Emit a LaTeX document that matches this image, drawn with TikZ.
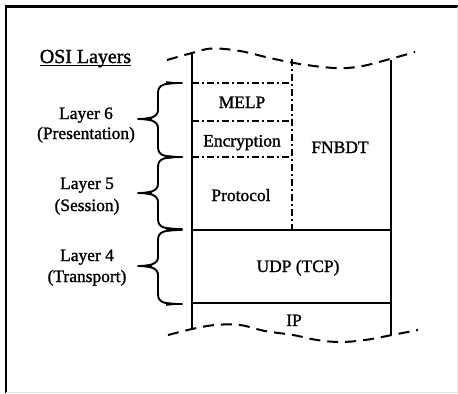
\documentclass[tikz,border=0pt]{standalone}
\usepackage{fontspec}
\setmainfont{Liberation Serif}
\newfontfamily\lblfont[FakeBold=1.3]{Liberation Serif}
\begin{document}
\begin{tikzpicture}[x=1bp,y=-1bp,
  lbl/.style={font=\lblfont\fontsize{17.5}{20}\selectfont, inner sep=0pt, anchor=base},
  boxline/.style={line width=1.9bp},
  sideline/.style={line width=1.5bp},
  dashdot/.style={line width=1.8bp, dash pattern=on 6.5bp off 3.5bp on 1.5bp off 3.5bp},
  wave/.style={line width=2bp, dash pattern=on 11bp off 7bp},
  brc/.style={line width=1.9bp, line join=round, line cap=round},
  brctip/.style={fill=black}]

\useasboundingbox (0,0) rectangle (458,393);

% frame
\draw[line width=2.3bp] (6,393) -- (6,6.5) -- (458,6.5);
\draw[black!10, line width=0.8bp] (457.5,6.5) -- (457.5,392.5) -- (6,392.5);

% corner points of the stack
\coordinate (LT) at (192,52);
\coordinate (LB) at (192,328);
\coordinate (RT) at (391,60);
\coordinate (RB) at (391,335);
\coordinate (DT) at (292,59);
\coordinate (DB) at (292,230);
\coordinate (M1L) at (192,83);  \coordinate (M1R) at (292,83);
\coordinate (M2L) at (192,121); \coordinate (M2R) at (292,121);
\coordinate (M3L) at (192,157); \coordinate (M3R) at (292,157);
\coordinate (UL) at (192,230);  \coordinate (UR) at (391,230);
\coordinate (IL) at (192,303);  \coordinate (IR) at (391,303);

% stack outline
\draw[boxline] (LT) -- (LB);
\draw[sideline] (RT) -- (RB);
\draw[boxline] (UL) -- (UR);
\draw[boxline] (IL) -- (IR);

% presentation / session sub-blocks
\draw[dashdot] (DT) -- (DB);
\draw[dashdot] (M1L) -- (M1R);
\draw[dashdot] (M2L) -- (M2R);
\draw[dashdot] (M3L) -- (M3R);

% torn edges above and below
\draw[wave] plot[smooth, tension=0.6] coordinates
  {(167,60) (192,53) (212,48.5) (240,51) (270,58) (300,64) (335,68) (360,66.5) (390,59) (415,52)};
\draw[wave] plot[smooth, tension=0.6] coordinates
  {(168,335) (192,329) (215,325) (240,325) (265,331) (293,335) (317,340) (340,342) (365,340) (392,335) (418,330)};

% braces for the OSI layers
\foreach \yt/\ym/\yb in {83/119/157, 157/193/229, 230/266/304}{
  \draw[brc] (182,\yt) .. controls (165,\yt) and (158,{\yt+1}) .. (158,{\yt+10})
    -- (158,{\ym-9}) .. controls (158,{\ym-2}) and (150,\ym) .. (138,\ym)
    .. controls (150,\ym) and (158,{\ym+2}) .. (158,{\ym+9})
    -- (158,{\yb-10}) .. controls (158,{\yb-1}) and (165,\yb) .. (182,\yb);
  \fill[brctip] (166,{\yt-1.8}) -- (183,\yt) -- (166,{\yt+1.8}) -- cycle;
  \fill[brctip] (166,{\yb-1.8}) -- (183,\yb) -- (166,{\yb+1.8}) -- cycle;
  \fill[brctip] (152,{\ym-2}) -- (137,\ym) -- (152,{\ym+2}) -- cycle;
}

% texts
\node[lbl, font=\lblfont\fontsize{20}{22}\selectfont] (title) at (85.5,63) {OSI Layers};
\draw[line width=1.4bp] ([yshift=-2.5bp]title.base west) -- ([yshift=-2.5bp]title.base east);

\node[lbl] (l6a) at (86,119) {Layer 6};
\node[lbl] (l6b) at (86,139) {(Presentation)};
\node[lbl] (l5a) at (87,189) {Layer 5};
\node[lbl] (l5b) at (87,211) {(Session)};
\node[lbl] (l4a) at (87,261) {Layer 4};
\node[lbl] (l4b) at (87,282) {(Transport)};

\node[lbl] (melp) at (242,108) {MELP};
\node[lbl] (enc) at (242,146.5) {Encryption};
\node[lbl] (proto) at (241,201) {Protocol};
\node[lbl] (fnbdt) at (340,153) {FNBDT};
\node[lbl] (udp) at (298,272) {UDP (TCP)};
\node[lbl] (ip) at (294,326) {IP};
\end{tikzpicture}
\end{document}
